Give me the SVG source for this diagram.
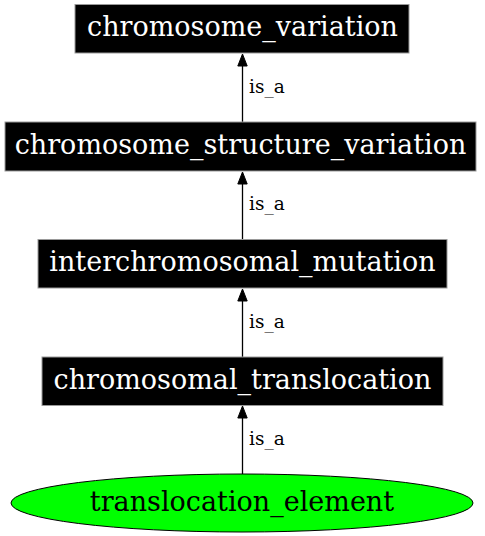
<svg xmlns="http://www.w3.org/2000/svg" width="485" height="536" viewBox="0 0 485 536">
<style>
.box{fill:#000;stroke:#999;stroke-width:1}
.nt{font-family:"DejaVu Serif",serif;font-size:27px;fill:#fff;text-anchor:middle}
.et{font-family:"DejaVu Serif",serif;font-size:18.5px;fill:#000}
.edge{stroke:#000;stroke-width:1.3;fill:none}
.ah{fill:#000;stroke:#000;stroke-width:1}
</style>
<rect width="485" height="536" fill="#fff"/>
<g id="connectors">
<line class="edge" x1="242.5" y1="122" x2="242.5" y2="65"/>
<polygon class="ah" points="242.5,54 237.8,66 247.2,66"/>
<text class="et" x="249" y="93">is_a</text>
<line class="edge" x1="242.5" y1="239" x2="242.5" y2="183"/>
<polygon class="ah" points="242.5,172 237.8,184 247.2,184"/>
<text class="et" x="249" y="210">is_a</text>
<line class="edge" x1="242.5" y1="357" x2="242.5" y2="300"/>
<polygon class="ah" points="242.5,289 237.8,301 247.2,301"/>
<text class="et" x="249" y="328">is_a</text>
<line class="edge" x1="242.5" y1="474" x2="242.5" y2="417"/>
<polygon class="ah" points="242.5,406 237.8,418 247.2,418"/>
<text class="et" x="249" y="445">is_a</text>
</g>
<g id="chromosome_variation">
<rect class="box" x="75" y="4.5" width="334" height="48.5"/>
<text class="nt" x="242.5" y="36">chromosome_variation</text>
</g>
<g id="chromosome_structure_variation">
<rect class="box" x="5" y="122" width="471" height="49"/>
<text class="nt" x="240.5" y="154">chromosome_structure_variation</text>
</g>
<g id="interchromosomal_mutation">
<rect class="box" x="38" y="239.5" width="409" height="48.5"/>
<text class="nt" x="242.5" y="271">interchromosomal_mutation</text>
</g>
<g id="chromosomal_translocation">
<rect class="box" x="42" y="357" width="401" height="48.5"/>
<text class="nt" x="242.5" y="389">chromosomal_translocation</text>
</g>
<g id="translocation_element">
<ellipse cx="242" cy="503" rx="231" ry="29" fill="#00ff00" stroke="#000" stroke-width="1"/>
<text class="nt" x="242" y="511" style="fill:#000">translocation_element</text>
</g>
</svg>
